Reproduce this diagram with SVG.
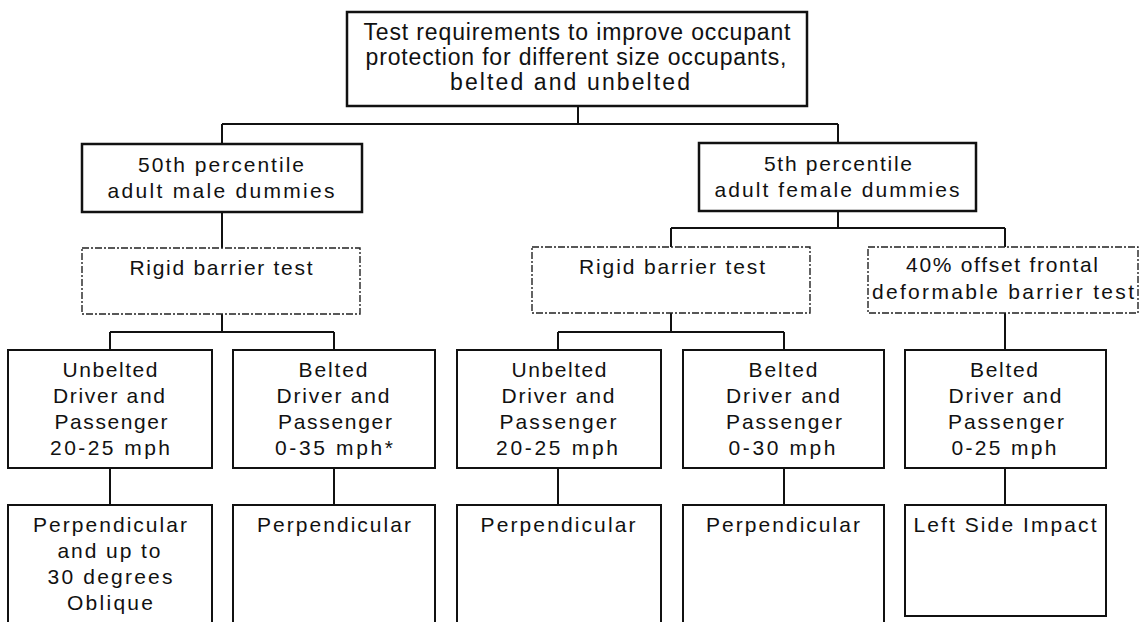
<svg xmlns="http://www.w3.org/2000/svg" width="1140" height="622" viewBox="0 0 1140 622">
  <style>
    .bg { fill: #ffffff; }
    .box { fill: #ffffff; stroke: #111111; stroke-width: 2; }
    .main { fill: #ffffff; stroke: #111111; stroke-width: 2.5; }
    .test { fill: #ffffff; stroke: #222222; stroke-width: 1.4; stroke-dasharray: 7 2 2 2; }
    .conn { fill: none; stroke: #111111; stroke-width: 2; }
    text { font-family: "Liberation Sans", Arial, sans-serif; font-size: 21px; fill: #111111; text-anchor: middle; }
    .big { font-size: 23px; }
  </style>
  <rect class="bg" x="0" y="0" width="1140" height="622"/>

  <g id="connectors">
    <path class="conn" d="M578,106 V124 M222,124 H838 M222,124 V144 M838,124 V143"/>
    <path class="conn" d="M222,212 V248 M838,211 V228 M671,228 H1005 M671,228 V247 M1005,228 V247"/>
    <path class="conn" d="M222,314 V332 M110,332 H334 M110,332 V350 M334,332 V350"/>
    <path class="conn" d="M671,313 V332 M558,332 H784 M558,332 V350 M784,332 V350 M1005,313 V350"/>
    <path class="conn" d="M110,468 V505 M334,468 V505 M558,468 V505 M784,468 V505 M1005,468 V505"/>
  </g>

  <g id="root">
    <rect class="main" x="347" y="12" width="460" height="94"/>
    <text class="big" x="577" y="40" textLength="427" lengthAdjust="spacing">Test requirements to improve occupant</text>
    <text class="big" x="576" y="65" textLength="421" lengthAdjust="spacing">protection for different size occupants,</text>
    <text class="big" x="570" y="90" textLength="240" lengthAdjust="spacing">belted and unbelted</text>
  </g>

  <g id="male50">
    <rect class="main" x="82" y="144" width="280" height="68"/>
    <text x="221" y="172" textLength="166" lengthAdjust="spacing">50th percentile</text>
    <text x="221" y="198" textLength="227" lengthAdjust="spacing">adult male dummies</text>
  </g>

  <g id="female5">
    <rect class="main" x="699" y="143" width="277" height="68"/>
    <text x="838" y="171" textLength="148" lengthAdjust="spacing">5th percentile</text>
    <text x="837" y="197" textLength="245" lengthAdjust="spacing">adult female dummies</text>
  </g>

  <g id="rigid-male">
    <rect class="test" x="82" y="248" width="278" height="66"/>
    <text x="221" y="275" textLength="183" lengthAdjust="spacing">Rigid barrier test</text>
  </g>

  <g id="rigid-female">
    <rect class="test" x="532" y="247" width="278" height="66"/>
    <text x="672" y="274" textLength="186" lengthAdjust="spacing">Rigid barrier test</text>
  </g>

  <g id="offset-female">
    <rect class="test" x="868" y="247" width="270" height="66"/>
    <text x="1002" y="272" textLength="192" lengthAdjust="spacing">40% offset frontal</text>
    <text x="1003" y="299" textLength="262" lengthAdjust="spacing">deformable barrier test</text>
  </g>

  <g id="male-unbelted">
    <rect class="box" x="8" y="350" width="204" height="118"/>
    <text x="110" y="377" textLength="95" lengthAdjust="spacing">Unbelted</text>
    <text x="109" y="403" textLength="112" lengthAdjust="spacing">Driver and</text>
    <text x="111" y="429" textLength="113" lengthAdjust="spacing">Passenger</text>
    <text x="110" y="455" textLength="120" lengthAdjust="spacing">20-25 mph</text>
  </g>

  <g id="male-belted">
    <rect class="box" x="233" y="350" width="202" height="118"/>
    <text x="333" y="377" textLength="69" lengthAdjust="spacing">Belted</text>
    <text x="333" y="403" textLength="113" lengthAdjust="spacing">Driver and</text>
    <text x="335" y="429" textLength="114" lengthAdjust="spacing">Passenger</text>
    <text x="334" y="455" textLength="118" lengthAdjust="spacing">0-35 mph*</text>
  </g>

  <g id="female-unbelted">
    <rect class="box" x="457" y="350" width="204" height="118"/>
    <text x="559" y="377" textLength="95" lengthAdjust="spacing">Unbelted</text>
    <text x="558" y="403" textLength="113" lengthAdjust="spacing">Driver and</text>
    <text x="558" y="429" textLength="117" lengthAdjust="spacing">Passenger</text>
    <text x="557" y="455" textLength="122" lengthAdjust="spacing">20-25 mph</text>
  </g>

  <g id="female-belted">
    <rect class="box" x="683" y="350" width="201" height="118"/>
    <text x="783" y="377" textLength="69" lengthAdjust="spacing">Belted</text>
    <text x="783" y="403" textLength="114" lengthAdjust="spacing">Driver and</text>
    <text x="784" y="429" textLength="116" lengthAdjust="spacing">Passenger</text>
    <text x="782" y="455" textLength="107" lengthAdjust="spacing">0-30 mph</text>
  </g>

  <g id="offset-belted">
    <rect class="box" x="905" y="350" width="201" height="118"/>
    <text x="1004" y="377" textLength="68" lengthAdjust="spacing">Belted</text>
    <text x="1005" y="403" textLength="113" lengthAdjust="spacing">Driver and</text>
    <text x="1006" y="429" textLength="116" lengthAdjust="spacing">Passenger</text>
    <text x="1004" y="455" textLength="105" lengthAdjust="spacing">0-25 mph</text>
  </g>

  <g id="male-unbelted-angle">
    <rect class="box" x="8" y="505" width="204" height="140"/>
    <text x="110" y="532" textLength="154" lengthAdjust="spacing">Perpendicular</text>
    <text x="109" y="558" textLength="103" lengthAdjust="spacing">and up to</text>
    <text x="110" y="584" textLength="125" lengthAdjust="spacing">30 degrees</text>
    <text x="110" y="610" textLength="86" lengthAdjust="spacing">Oblique</text>
  </g>

  <g id="male-belted-angle">
    <rect class="box" x="233" y="505" width="202" height="140"/>
    <text x="334" y="532" textLength="154" lengthAdjust="spacing">Perpendicular</text>
  </g>

  <g id="female-unbelted-angle">
    <rect class="box" x="457" y="505" width="204" height="140"/>
    <text x="558" y="532" textLength="155" lengthAdjust="spacing">Perpendicular</text>
  </g>

  <g id="female-belted-angle">
    <rect class="box" x="683" y="505" width="201" height="140"/>
    <text x="783" y="532" textLength="154" lengthAdjust="spacing">Perpendicular</text>
  </g>

  <g id="offset-angle">
    <rect class="box" x="905" y="505" width="201" height="111"/>
    <text x="1005" y="532" textLength="183" lengthAdjust="spacing">Left Side Impact</text>
  </g>
</svg>
